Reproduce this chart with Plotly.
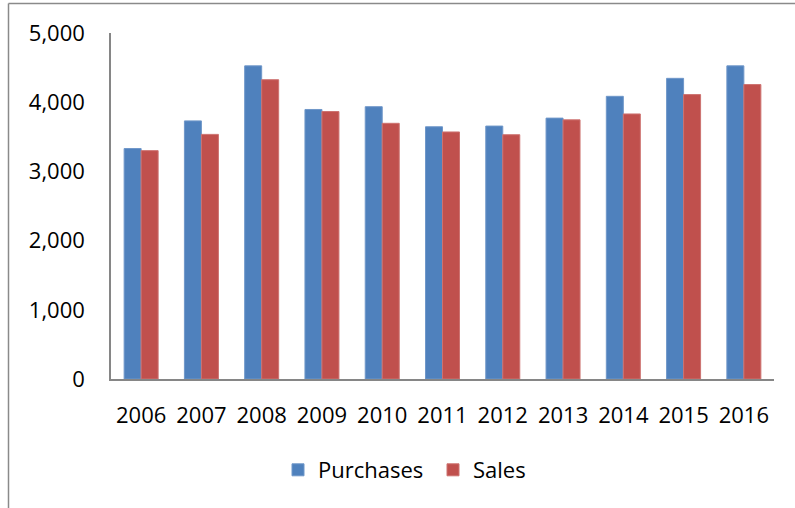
import plotly.graph_objects as go

years = ["2006", "2007", "2008", "2009", "2010", "2011", "2012", "2013", "2014", "2015", "2016"]
purchases = [3330, 3730, 4525, 3895, 3935, 3645, 3655, 3770, 4085, 4345, 4525]
sales = [3300, 3535, 4325, 3865, 3695, 3570, 3530, 3745, 3830, 4110, 4255]
y_ticks = [0, 1000, 2000, 3000, 4000, 5000]
y_tick_labels = ["0", "1,000", "2,000", "3,000", "4,000", "5,000"]

W, H = 795, 508
L, R, T, B = 111, 21, 33, 129
pw, ph = W - L - R, H - T - B

font = dict(family="Open Sans", size=22, color="black")

fig = go.Figure()
fig.add_trace(go.Bar(name="Purchases", x=years, y=purchases,
                     marker=dict(color="#4F81BD", line=dict(width=1, color="#6f97c9"))))
fig.add_trace(go.Bar(name="Sales", x=years, y=sales,
                     marker=dict(color="#C0504D", line=dict(width=1, color="#cd7270"))))

fx = lambda px: (px - L) / pw
fy = lambda py: (H - B - py) / ph

fig.update_layout(
    width=W, height=H,
    margin=dict(l=L, r=R, t=T, b=B, autoexpand=False),
    paper_bgcolor="white", plot_bgcolor="white",
    font=font,
    barmode="group", bargap=0.436, bargroupgap=0,
    showlegend=True,
    legend=dict(orientation="h", x=fx(278), xanchor="left", y=fy(470), yanchor="middle",
                font=font, bgcolor="rgba(0,0,0,0)", entrywidth=110),
    xaxis=dict(showline=True, linecolor="#868686", linewidth=1.5, ticks="",
               showgrid=False, ticklabelstandoff=16, tickfont=font),
    yaxis=dict(range=[0, 5000], tickvals=y_ticks, ticktext=y_tick_labels,
               showline=True, linecolor="#868686", linewidth=1.5, ticks="",
               showgrid=False, zeroline=False, ticklabelstandoff=20, tickfont=font),
    shapes=[
        dict(type="line", xref="paper", yref="paper", x0=fx(8.5), x1=fx(8.5), y0=fy(520), y1=fy(3.5),
             line=dict(color="#8a8a8a", width=1.5)),
        dict(type="line", xref="paper", yref="paper", x0=fx(8.5), x1=fx(820), y0=fy(3.5), y1=fy(3.5),
             line=dict(color="#8a8a8a", width=1.5)),
    ],
)

fig.write_html("out.html", config={"displayModeBar": False},
               post_script="document.body.style.margin='0';document.body.style.overflow='hidden';")
